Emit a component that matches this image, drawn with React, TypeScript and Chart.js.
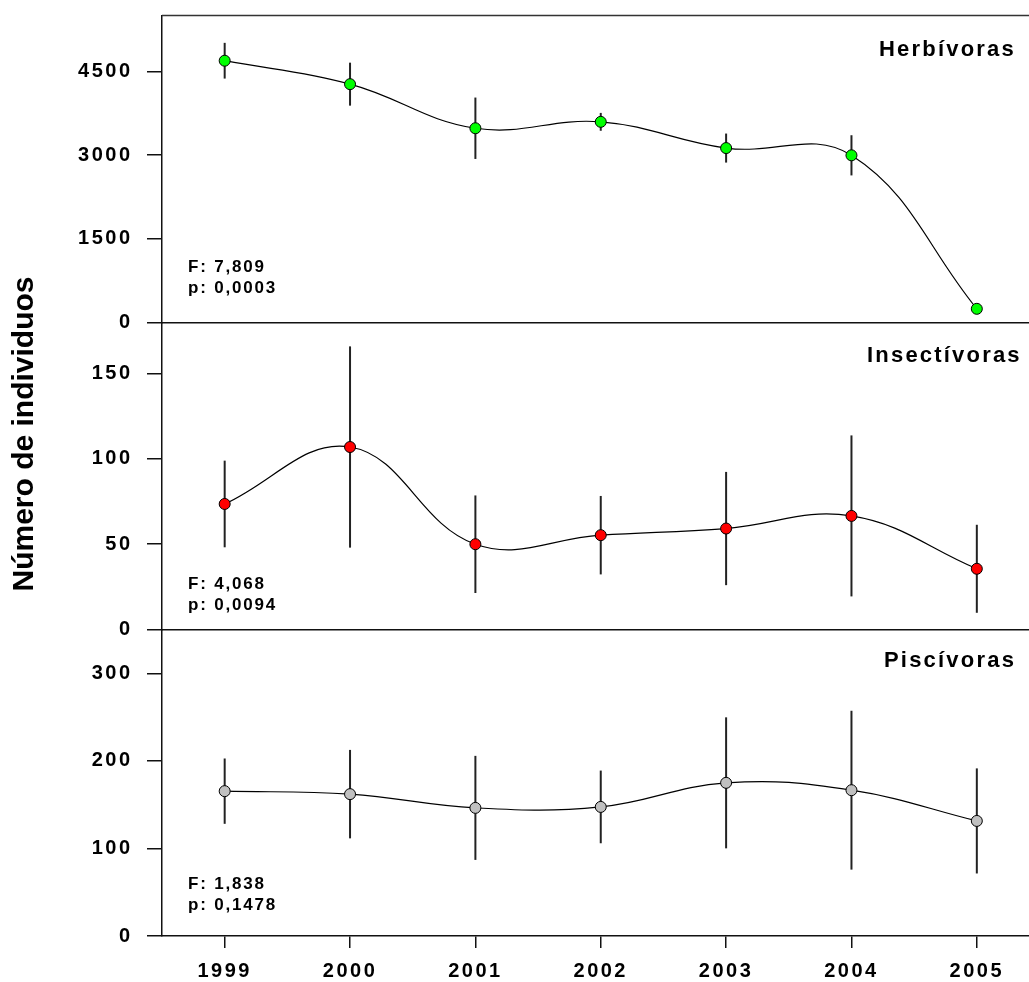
import React, { useEffect, useRef } from 'react';
import { Chart, registerables } from 'chart.js';

Chart.register(...registerables);

// ---------- data ----------
const years = [1999, 2000, 2001, 2002, 2003, 2004, 2005];

const herbMean = [4690, 4270, 3480, 3595, 3125, 2995, 245];
const herbErr = [320, 385, 550, 160, 260, 360, 60];

const insMean = [73.6, 107, 50, 55.3, 59.2, 66.6, 35.6];
const insErr = [25.4, 59, 28.6, 23, 33.2, 47.2, 25.8];

const pisMean = [165.4, 162, 146.3, 147.4, 174.9, 166.5, 131.4];
const pisErr = [37.3, 50.5, 59.4, 41.5, 74.8, 90.7, 60];

const herbTicks = [0, 1500, 3000, 4500];
const insTicks = [0, 50, 100, 150];
const pisTicks = [0, 100, 200, 300];

const panelNames = ['Herbívoras', 'Insectívoras', 'Piscívoras'];
const statF = ['F: 7,809', 'F: 4,068', 'F: 1,838'];
const statP = ['p: 0,0003', 'p: 0,0094', 'p: 0,1478'];
const yTitle = 'Número de individuos';

// ---------- layout / style ----------
const W = 1046;
const H = 982;
const AXIS_X = 162;
const PANEL_TOP = [15.5, 322.5, 629.5];
const PANEL_BOTTOM = [322.5, 629.5, 936];
const FONT = "'Liberation Sans', Arial, Helvetica, sans-serif";
const TITLE_POS = [
  { x: 879, y: 56 },
  { x: 867, y: 362 },
  { x: 884, y: 667 },
];
const STAT_POS = [
  { x: 188, yF: 271.5, yP: 292.5 },
  { x: 188, yF: 588.5, yP: 610 },
  { x: 188, yF: 888.5, yP: 910 },
];

interface Panel {
  mean: number[];
  err: number[];
  ticks: number[];
  max: number;
  color: string;
}

const panels: Panel[] = [
  { mean: herbMean, err: herbErr, ticks: herbTicks, max: 5500, color: '#00ff00' },
  { mean: insMean, err: insErr, ticks: insTicks, max: 180, color: '#ff0000' },
  { mean: pisMean, err: pisErr, ticks: pisTicks, max: 350, color: '#c0c0c0' },
];

function zeroPad(s: any) {
  s.paddingTop = 0;
  s.paddingBottom = 0;
  s.paddingLeft = 0;
  s.paddingRight = 0;
}

function buildConfig(p: Panel, idx: number): any {
  const isBottom = idx === 2;
  const tickFont = { family: FONT, size: 20, weight: 'bold' as const };

  const panelPlugin = {
    id: 'panelDeco' + idx,
    beforeDraw(chart: any) {
      chart.ctx.letterSpacing = '2.5px';
    },
    beforeDatasetsDraw(chart: any) {
      const ctx = chart.ctx;
      const xs = chart.scales.x;
      const ys = chart.scales.y;
      ctx.save();
      ctx.strokeStyle = '#222';
      ctx.lineWidth = 2;
      p.mean.forEach((m, i) => {
        const x = xs.getPixelForValue(years[i]);
        const y1 = ys.getPixelForValue(m + p.err[i]);
        const y2 = ys.getPixelForValue(Math.max(0, m - p.err[i]));
        ctx.beginPath();
        ctx.moveTo(x, y1);
        ctx.lineTo(x, y2);
        ctx.stroke();
      });
      ctx.restore();
    },
    afterDraw(chart: any) {
      const ctx = chart.ctx;
      const area = chart.chartArea;
      ctx.save();
      if (idx === 0) {
        ctx.strokeStyle = '#333';
        ctx.lineWidth = 1.5;
        ctx.beginPath();
        ctx.moveTo(area.left, area.top);
        ctx.lineTo(area.right, area.top);
        ctx.stroke();
      }
      ctx.fillStyle = '#000';
      ctx.textBaseline = 'alphabetic';
      ctx.textAlign = 'left';
      ctx.letterSpacing = '2.2px';
      ctx.font = `bold 22px ${FONT}`;
      ctx.fillText(panelNames[idx], TITLE_POS[idx].x, TITLE_POS[idx].y);

      ctx.letterSpacing = '1.8px';
      ctx.font = `bold 17px ${FONT}`;
      ctx.fillText(statF[idx], STAT_POS[idx].x, STAT_POS[idx].yF);
      ctx.fillText(statP[idx], STAT_POS[idx].x, STAT_POS[idx].yP);

      if (isBottom) {
        ctx.letterSpacing = '0px';
        ctx.translate(25, 434);
        ctx.rotate(-Math.PI / 2);
        ctx.textAlign = 'center';
        ctx.textBaseline = 'middle';
        ctx.font = `bold 30px ${FONT}`;
        ctx.fillText(yTitle, 0, 0);
      }
      ctx.restore();
    },
  };

  return {
    type: 'line',
    data: {
      datasets: [
        {
          data: years.map((y, i) => ({ x: y, y: p.mean[i] })),
          borderColor: '#000',
          borderWidth: 1.2,
          tension: 0.4,
          fill: false,
          pointRadius: 5.5,
          pointStyle: 'circle',
          pointBackgroundColor: p.color,
          pointBorderColor: '#000',
          pointBorderWidth: 1,
        },
      ],
    },
    options: {
      responsive: false,
      animation: false,
      devicePixelRatio: 1,
      events: [],
      layout: {
        padding: {
          top: PANEL_TOP[idx],
          bottom: isBottom ? 0 : H - PANEL_BOTTOM[idx],
          left: 0,
          right: W - (AXIS_X + 7 * 126),
        },
      },
      plugins: {
        legend: { display: false },
        tooltip: { enabled: false },
        title: { display: false },
      },
      scales: {
        x: {
          type: 'linear',
          min: 1998.5,
          max: 2005.5,
          afterBuildTicks: (s: any) => {
            s.ticks = years.map((v) => ({ value: v }));
          },
          afterFit: (s: any) => {
            s.height = isBottom ? H - PANEL_BOTTOM[2] : 0;
            zeroPad(s);
          },
          grid: {
            display: isBottom,
            drawOnChartArea: false,
            drawTicks: true,
            tickLength: 12,
            color: '#111',
            lineWidth: 1.5,
          },
          border: { display: true, color: '#111', width: 1.5 },
          ticks: {
            display: isBottom,
            autoSkip: false,
            maxRotation: 0,
            color: '#000',
            font: tickFont,
            padding: 11,
            callback: (v: any) => String(v),
          },
        },
        y: {
          type: 'linear',
          min: 0,
          max: p.max,
          afterBuildTicks: (s: any) => {
            s.ticks = p.ticks.map((v) => ({ value: v }));
          },
          afterFit: (s: any) => {
            s.width = AXIS_X;
            zeroPad(s);
          },
          grid: {
            display: true,
            drawOnChartArea: false,
            drawTicks: true,
            tickLength: 15,
            color: '#111',
            lineWidth: 1.5,
          },
          border: { display: true, color: '#111', width: 1.5 },
          ticks: {
            color: '#000',
            font: tickFont,
            padding: 14.5,
            callback: (v: any) => String(v),
          },
        },
      },
    },
    plugins: [panelPlugin],
  };
}

export default function App() {
  const r0 = useRef<HTMLCanvasElement>(null);
  const r1 = useRef<HTMLCanvasElement>(null);
  const r2 = useRef<HTMLCanvasElement>(null);

  useEffect(() => {
    const refs = [r0, r1, r2];
    const charts = refs.map((r, i) => new Chart(r.current as HTMLCanvasElement, buildConfig(panels[i], i)));
    return () => charts.forEach((c) => c.destroy());
  }, []);

  const cStyle: React.CSSProperties = { position: 'absolute', left: 0, top: 0, display: 'block' };
  return (
    <div
      style={{
        position: 'absolute',
        left: 0,
        top: 0,
        width: 1029,
        height: 982,
        overflow: 'hidden',
        background: '#fff',
      }}
    >
      <canvas ref={r0} width={W} height={H} style={{ ...cStyle, width: W, height: H }} />
      <canvas ref={r1} width={W} height={H} style={{ ...cStyle, width: W, height: H }} />
      <canvas ref={r2} width={W} height={H} style={{ ...cStyle, width: W, height: H }} />
    </div>
  );
}
